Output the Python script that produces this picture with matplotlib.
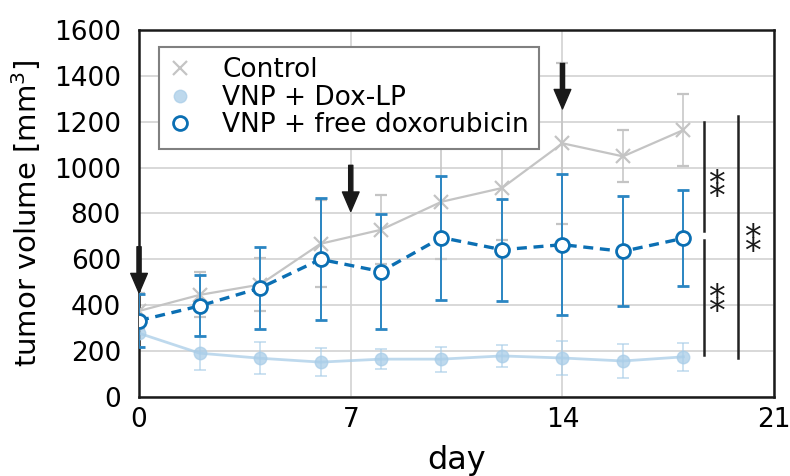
import matplotlib.pyplot as plt
from matplotlib.lines import Line2D

plt.rcParams['font.family'] = ['DejaVu Sans']

days = [0, 2, 4, 6, 8, 10, 12, 14, 16, 18]

control = [375, 445, 490, 668, 729, 851, 911, 1106, 1049, 1164]
control_err = [80, 98, 117, 190, 150, 250, 228, 352, 113, 158]

dox_lp = [278, 191, 169, 152, 165, 165, 179, 170, 157, 175]
dox_lp_err = [60, 73, 69, 60, 45, 54, 49, 72, 74, 62]

free_dox = [333, 397, 475, 600, 547, 695, 642, 664, 635, 692]
free_dox_err = [115, 133, 180, 266, 252, 270, 222, 307, 240, 210]

# injection days (arrow top, arrow tip)
arrow_days = [0, 7, 14]
arrow_top = [655, 1010, 1454]
arrow_tip = [454, 809, 1256]

fig = plt.figure(figsize=(7.9, 4.76), dpi=100)
ax = fig.add_axes([0.176, 0.166, 0.804, 0.771])

c_ctrl = '#c4c4c4'
c_lp = '#a9cde8'
c_free = '#0b6fb3'

ax.errorbar(days, control, yerr=control_err, color=c_ctrl, lw=1.6, marker='x',
            ms=10, mew=1.6, elinewidth=1.1, capsize=4, capthick=1.1, zorder=3)
ax.errorbar(days, dox_lp, yerr=dox_lp_err, color=c_lp, lw=2, marker='o',
            ms=9, alpha=0.75, elinewidth=1.1, capsize=4, capthick=1.1, zorder=3)
ax.errorbar(days, free_dox, yerr=free_dox_err, color=c_free, lw=2.4, ls='--',
            dashes=(3, 2), marker='o', ms=10, mfc='white', mec=c_free, mew=2,
            ecolor='#2a85c2', elinewidth=1.4, capsize=4, capthick=1.4, zorder=5)

for d, t0, t1 in zip(arrow_days, arrow_top, arrow_tip):
    ax.annotate('', xy=(d, t1), xytext=(d, t0), zorder=4,
                arrowprops=dict(facecolor='#1a1a1a', edgecolor='#1a1a1a',
                                width=3, headwidth=12, headlength=14, shrink=0))

# significance brackets
ax.plot([18.68, 18.68], [1198, 725], color='#222222', lw=1.8)
ax.plot([18.68, 18.68], [686, 183], color='#222222', lw=1.8)
ax.plot([19.8, 19.8], [1224, 169], color='#222222', lw=1.8)
for x, y in [(19.1, 940), (19.1, 441), (20.27, 703)]:
    ax.annotate('*\n*', xy=(x, y), xytext=(0, -7), textcoords='offset points',
                ha='center', va='center', fontsize=24, linespacing=0.25,
                color='#1a1a1a')

ax.set_xlim(0, 21)
ax.set_ylim(0, 1600)
ax.set_xticks([0, 7, 14, 21])
ax.set_yticks(range(0, 1601, 200))
ax.grid(True, color='#d2d2d2', lw=1.2)
ax.set_axisbelow(True)
ax.tick_params(length=0, labelsize=19)
ax.tick_params(axis='y', pad=13)
ax.tick_params(axis='x', pad=7)
for s in ax.spines.values():
    s.set_linewidth(1.8)
    s.set_color('#1a1a1a')

ax.set_xlabel('day', fontsize=23, labelpad=9)
ax.set_ylabel('tumor volume [mm$^3$]', fontsize=21, labelpad=8)

handles = [
    Line2D([], [], ls='none', marker='x', ms=10, mew=1.6, color=c_ctrl),
    Line2D([], [], ls='none', marker='o', ms=9, color=c_lp, alpha=0.75),
    Line2D([], [], ls='none', marker='o', ms=10, mfc='white', mec=c_free, mew=2),
]
labels = ['Control', 'VNP + Dox-LP', 'VNP + free doxorubicin']
leg = ax.legend(handles, labels, loc='upper left', bbox_to_anchor=(0.031, 0.954),
                borderaxespad=0, fontsize=19, frameon=True, fancybox=False,
                edgecolor='#808080', handlelength=0.8, handletextpad=1.2,
                labelspacing=0.05, borderpad=0.4, framealpha=1)
leg.get_frame().set_linewidth(1.5)

plt.savefig('out.png', dpi=100)
